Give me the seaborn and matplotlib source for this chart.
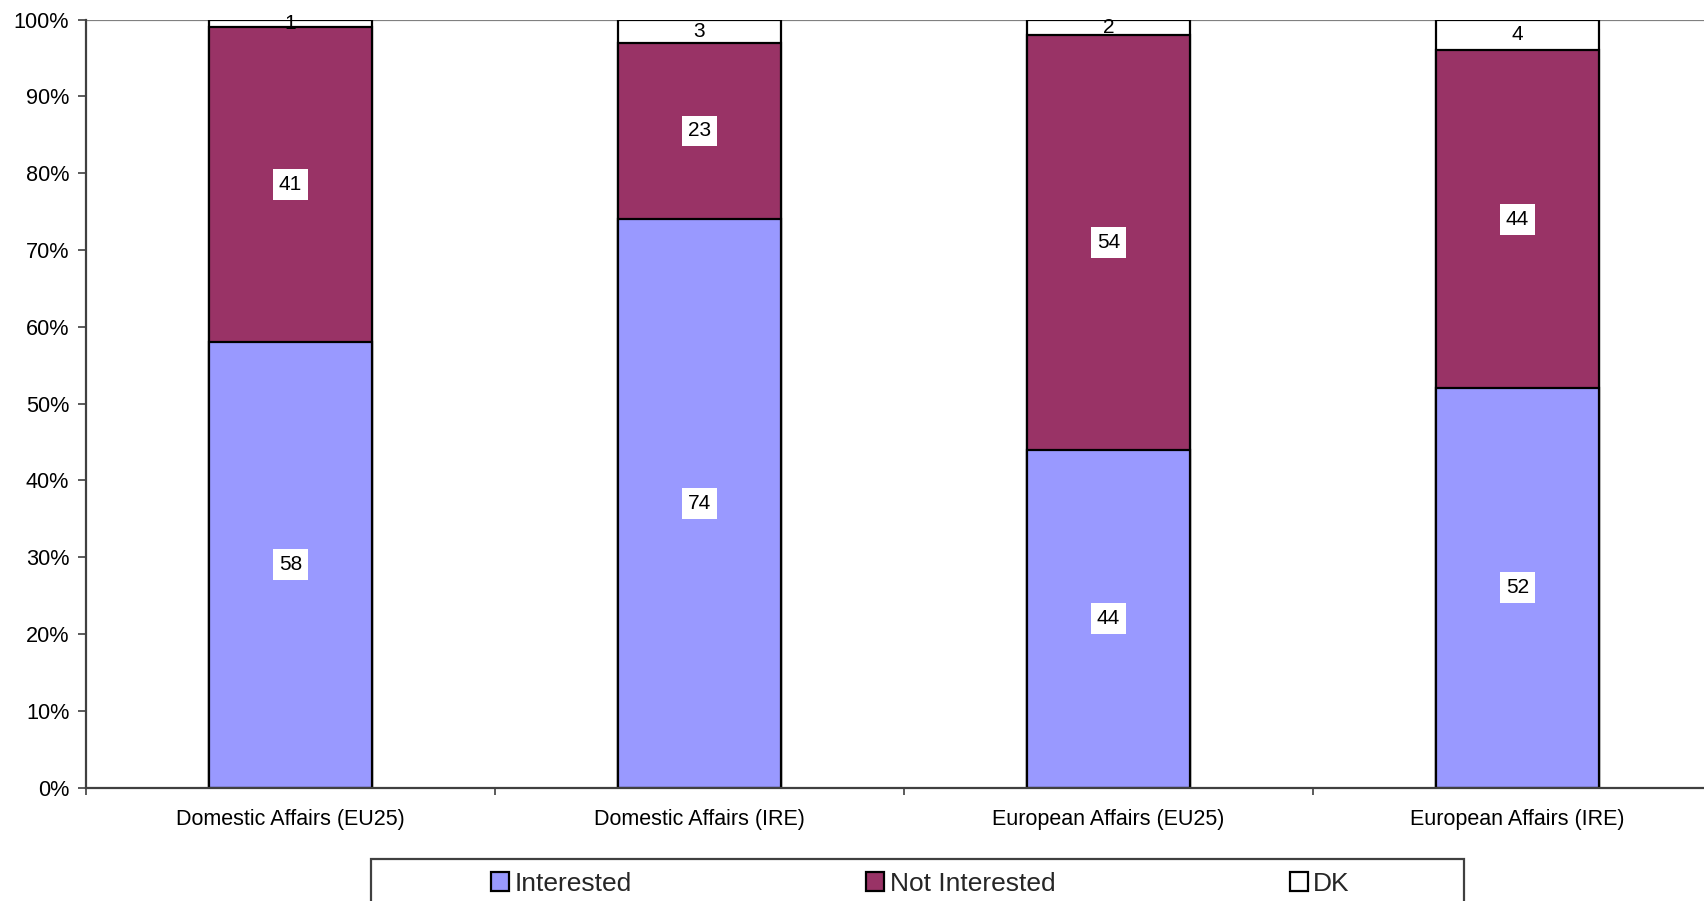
import numpy as np
import pandas as pd
import matplotlib
matplotlib.use("Agg")
import matplotlib.pyplot as plt
from matplotlib.patches import Rectangle, Patch
import seaborn as sns

categories = ["Domestic Affairs (EU25)", "Domestic Affairs (IRE)",
              "European Affairs (EU25)", "European Affairs (IRE)"]
interested = [58, 74, 44, 52]
not_interested = [41, 23, 54, 44]
dk = [1, 3, 2, 4]
series_names = ["Interested", "Not Interested", "DK"]
colors = ["#9999FF", "#993366", "#FFFFFF"]
y_ticks = list(range(0, 101, 10))

sns.set_theme(style="white")
plt.rcParams["font.family"] = ["Liberation Sans", "DejaVu Sans"]

df = pd.DataFrame({
    "category": categories,
    "Interested": interested,
    "Not Interested": not_interested,
    "DK": dk,
})
df["cum1"] = df["Interested"]
df["cum2"] = df["Interested"] + df["Not Interested"]
df["cum3"] = df["cum2"] + df["DK"]

fig = plt.figure(figsize=(17.04, 9.01), dpi=100)
ax = fig.add_axes([86 / 1704, 113.5 / 901, 1636 / 1704, 768 / 901])

bw = 0.40
for col, color in [("cum3", colors[2]), ("cum2", colors[1]), ("cum1", colors[0])]:
    sns.barplot(data=df, x="category", y=col, color=color, saturation=1,
                width=bw, edgecolor="black", linewidth=1.6, ax=ax, zorder=3)

ax.set_xlim(-0.5, 3.5)
ax.set_ylim(0, 100)
ax.axhline(100, color="#808080", lw=1.6, zorder=1)

# data labels
for i in range(len(categories)):
    segs = [(0, interested[i]), (interested[i], not_interested[i]),
            (interested[i] + not_interested[i], dk[i])]
    for k, (b, v) in enumerate(segs):
        yc = b + v / 2
        if k < 2:
            ax.text(i, yc, str(v), ha="center", va="center", fontsize=15,
                    color="black", zorder=5,
                    bbox=dict(boxstyle="square,pad=0.28", fc="white", ec="none"))
        else:
            ax.text(i, yc, str(v), ha="center", va="center", fontsize=15,
                    color="black", zorder=6)

ax.set_yticks(y_ticks)
ax.set_yticklabels([f"{t}%" for t in y_ticks])
ax.set_xticks(range(len(categories)))
ax.set_xticklabels(categories)
ax.set_xticks([-0.5, 0.5, 1.5, 2.5], minor=True)
ax.tick_params(axis="x", which="major", length=0, pad=15.5, labelsize=15.5, colors="black")
ax.tick_params(axis="x", which="minor", length=5, width=1.2, color="#404040", direction="out")
ax.tick_params(axis="y", which="major", length=6, width=1.2, color="#404040",
               direction="out", pad=6, labelsize=15.6, labelcolor="black")
ax.tick_params(axis="y", left=True)
ax.tick_params(axis="x", bottom=True, which="both")
ax.set_xlabel("")
ax.set_ylabel("")
for s in ["top", "right"]:
    ax.spines[s].set_visible(False)
for s in ["left", "bottom"]:
    ax.spines[s].set_color("#404040")
    ax.spines[s].set_linewidth(1.6)
    ax.spines[s].set_zorder(4)

# legend box
fig.patches.append(Rectangle((371 / 1704, -0.05), 1093 / 1704, 0.05 + 42 / 901,
                             transform=fig.transFigure, fill=False,
                             edgecolor="#404040", linewidth=1.6))
handles = [Patch(facecolor=c, edgecolor="black", linewidth=1.6) for c in colors]
fig.legend(handles, series_names, loc="center left",
           bbox_to_anchor=(491 / 1704, 1 - 884 / 901), ncol=3, frameon=False,
           fontsize=19, handlelength=0.68, handleheight=0.72, handletextpad=0.2,
           columnspacing=8.9, borderpad=0, borderaxespad=0)

fig.savefig("out.png", dpi=100)
